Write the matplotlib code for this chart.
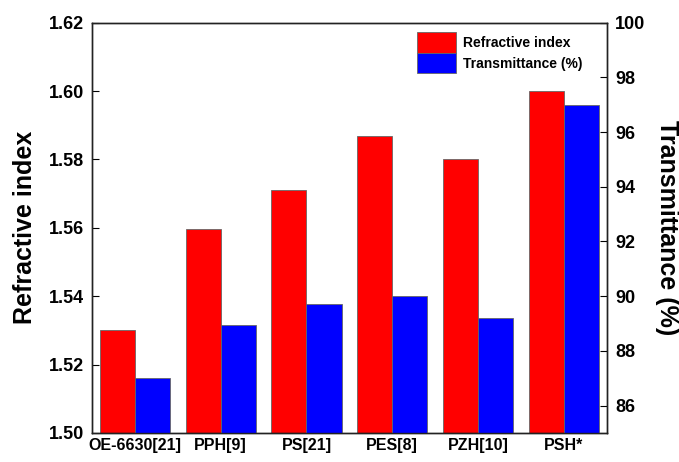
import matplotlib
matplotlib.use("Agg")
import matplotlib.pyplot as plt
import matplotlib.ticker as mticker
import numpy as np

plt.rcParams["font.family"] = ["Liberation Sans", "DejaVu Sans"]
plt.rcParams["font.weight"] = "bold"

categories = ["OE-6630[21]", "PPH[9]", "PS[21]", "PES[8]", "PZH[10]", "PSH*"]
refractive_index = [1.530, 1.5595, 1.571, 1.5867, 1.580, 1.600]
transmittance = [87.0, 88.95, 89.7, 90.0, 89.2, 97.0]

x = np.arange(len(categories))
w = 0.41

fig = plt.figure(figsize=(6.79, 4.62), dpi=100)
ax1 = fig.add_axes([0.1355, 0.063, 0.758, 0.888])
ax2 = ax1.twinx()

b1 = ax1.bar(x - w / 2, refractive_index, width=w, color="#ff0000",
             edgecolor="#666666", linewidth=0.6, label="Refractive index")
b2 = ax2.bar(x + w / 2, transmittance, width=w, color="#0000ff",
             edgecolor="#666666", linewidth=0.6, label="Transmittance (%)")

ax1.set_xlim(-0.5, len(categories) - 0.5)
ax1.set_ylim(1.50, 1.62)
ax1.yaxis.set_major_locator(mticker.MultipleLocator(0.02))
ax1.yaxis.set_major_formatter(mticker.FormatStrFormatter("%.2f"))
ax2.set_ylim(85, 100)
ax2.set_yticks(np.arange(86, 101, 2))

ax1.set_xticks(x)
ax1.set_xticklabels(categories, fontsize=11.5, fontweight="bold")
ax1.tick_params(axis="x", length=0, pad=4)
ax1.tick_params(axis="y", direction="in", length=5, labelsize=13, pad=6)
ax2.tick_params(axis="y", direction="in", length=5, labelsize=13, pad=6)

ax1.set_ylabel("Refractive index", fontsize=18, fontweight="bold", labelpad=8)
ax2.set_ylabel("Transmittance (%)", fontsize=18, fontweight="bold",
               rotation=270, labelpad=24)

for ax in (ax1, ax2):
    for s in ax.spines.values():
        s.set_linewidth(1.0)
        s.set_color("#222222")

ax1.legend([b1, b2], ["Refractive index", "Transmittance (%)"],
           loc="upper left", bbox_to_anchor=(0.62, 0.99), frameon=False,
           fontsize=10, handlelength=2.8, handleheight=1.9,
           labelspacing=0.0, handletextpad=0.55, borderaxespad=0)

fig.savefig("out.png", dpi=100)
